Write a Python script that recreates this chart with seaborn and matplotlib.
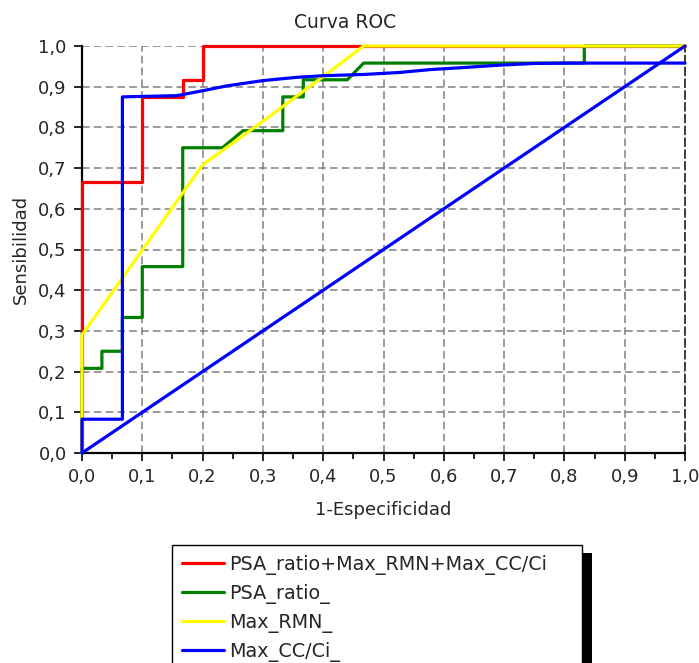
import matplotlib
matplotlib.use("Agg")
import matplotlib.pyplot as plt
import seaborn as sns
import pandas as pd
from matplotlib.patches import Rectangle
from matplotlib.lines import Line2D

# ---- data ----
red_x = [0, 0, 0.1, 0.1, 0.167, 0.167, 0.2, 0.2, 1.0]
red_y = [0, 0.667, 0.667, 0.875, 0.875, 0.917, 0.917, 1.0, 1.0]

green_x = [0, 0, 0.033, 0.033, 0.067, 0.067, 0.1, 0.1, 0.167, 0.167, 0.233, 0.267,
           0.333, 0.333, 0.367, 0.367, 0.44, 0.467, 0.833, 0.833, 1.0]
green_y = [0, 0.208, 0.208, 0.25, 0.25, 0.333, 0.333, 0.458, 0.458, 0.75, 0.75, 0.792,
           0.792, 0.875, 0.875, 0.917, 0.917, 0.958, 0.958, 1.0, 1.0]

yellow_x = [0, 0, 0.2, 0.3, 0.4, 0.467, 1.0]
yellow_y = [0, 0.29, 0.708, 0.815, 0.925, 1.0, 1.0]

blue_x = [0, 0, 0.067, 0.067, 0.157, 0.2, 0.24, 0.3, 0.356, 0.4, 0.466, 0.527,
          0.577, 0.632, 0.693, 0.748, 0.804, 1.0]
blue_y = [0, 0.083, 0.083, 0.875, 0.878, 0.89, 0.902, 0.915, 0.923, 0.927, 0.930, 0.935,
          0.942, 0.947, 0.953, 0.957, 0.958, 0.958]

diag_x = [0, 1]
diag_y = [0, 1]

series_names = ["PSA_ratio+Max_RMN+Max_CC/Ci", "PSA_ratio_", "Max_RMN_", "Max_CC/Ci_"]
series_colors = ["#ff0000", "#008000", "#ffff00", "#0000ff"]

tick_values = [0.0, 0.1, 0.2, 0.3, 0.4, 0.5, 0.6, 0.7, 0.8, 0.9, 1.0]
tick_labels = ["0,0", "0,1", "0,2", "0,3", "0,4", "0,5", "0,6", "0,7", "0,8", "0,9", "1,0"]

title_text = "Curva ROC"
xlabel_text = "1-Especificidad"
ylabel_text = "Sensibilidad"

# ---- style ----
sns.set_style("white")
plt.rcParams["font.family"] = ["DejaVu Sans"]
plt.rcParams["lines.scale_dashes"] = False

W, H = 699, 663
fig = plt.figure(figsize=(W / 100, H / 100), dpi=100)
fig.patch.set_facecolor("white")
ax = fig.add_axes([82 / W, 210 / H, 603 / W, 407 / H])

lw = 2.3
curves = [(red_x, red_y), (green_x, green_y), (yellow_x, yellow_y), (blue_x, blue_y)]
for (xs, ys), name, col in zip(curves, series_names, series_colors):
    df = pd.DataFrame({"x": xs, "y": ys})
    sns.lineplot(data=df, x="x", y="y", estimator=None, sort=False, color=col,
                 lw=lw, ax=ax, legend=False, clip_on=False, zorder=3)
ddf = pd.DataFrame({"x": diag_x, "y": diag_y})
sns.lineplot(data=ddf, x="x", y="y", estimator=None, sort=False, color="#0000ff",
             lw=lw, ax=ax, legend=False, clip_on=False, zorder=3)

ax.set_xlim(0, 1)
ax.set_ylim(0, 1)
ax.set_xticks(tick_values)
ax.set_xticklabels(tick_labels)
ax.set_yticks(tick_values)
ax.set_yticklabels(tick_labels)
ax.set_xticks([v + 0.05 for v in tick_values[:-1]], minor=True)

ax.grid(True, which="major", color="#808080", linestyle=(0, (5.5, 3.0)), linewidth=1.1)
ax.set_axisbelow(True)

for s in ["left", "bottom"]:
    ax.spines[s].set_visible(True)
    ax.spines[s].set_color("black")
    ax.spines[s].set_linewidth(1.6)
ax.spines["top"].set_visible(False)
ax.spines["right"].set_visible(True)
ax.spines["right"].set_color("#333333")
ax.spines["right"].set_linestyle((0, (5.5, 3.0)))
ax.spines["right"].set_linewidth(1.3)

ax.tick_params(axis="both", which="major", direction="out", length=6, width=1.2,
               color="black", labelsize=13, pad=5, bottom=True, left=True)
ax.tick_params(axis="x", which="minor", direction="out", length=4, width=1.2,
               color="black", bottom=True)

ax.set_xlabel(xlabel_text, fontsize=13)
ax.set_ylabel(ylabel_text, fontsize=13)
ax.xaxis.set_label_coords(0.5, -0.118)
ax.yaxis.set_label_coords(-0.087, 0.5)

fig.text(345 / W, 1 - 22 / H, title_text, ha="center", va="center", fontsize=13.5)

# ---- legend with black drop shadow ----
handles = [Line2D([0], [0], color=c, lw=lw) for c in series_colors]
leg = fig.legend(handles, series_names, loc="upper left",
                 bbox_to_anchor=(172 / W, 0, (582 - 172) / W, 1 - 545 / H),
                 mode="expand", borderaxespad=0, fontsize=13.8,
                 handlelength=2.2, handletextpad=0.3, labelspacing=0.48,
                 borderpad=0.5, fancybox=False, framealpha=1, edgecolor="black")
leg.get_frame().set_linewidth(1.0)
leg.set_zorder(6)
fig.add_artist(Rectangle((582 / W, 0), 10 / W, (663 - 553) / H, transform=fig.transFigure,
                         facecolor="black", edgecolor="none", zorder=5))

fig.savefig("out.png", dpi=100, facecolor="white")
